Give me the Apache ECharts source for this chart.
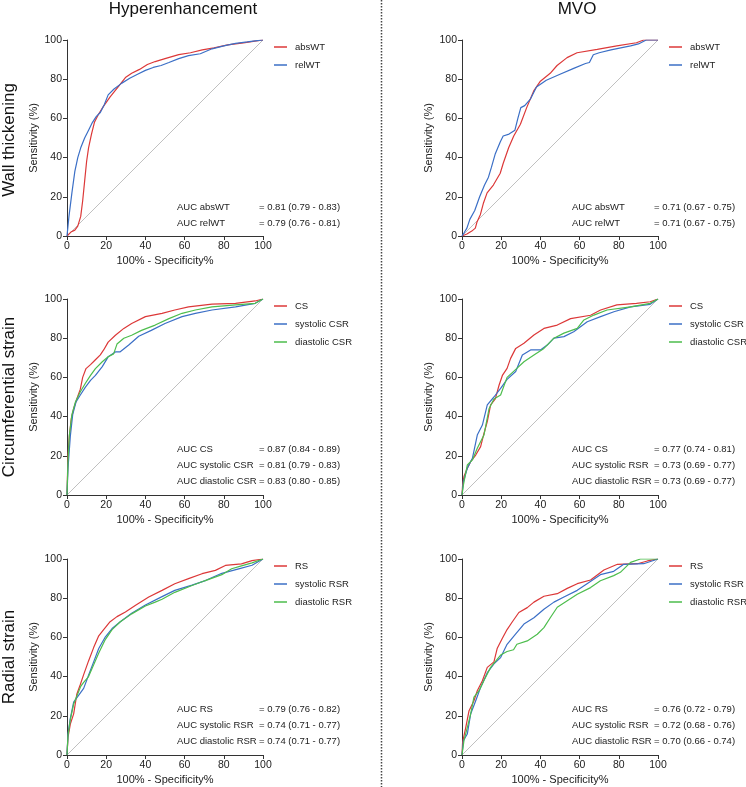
<!DOCTYPE html>
<html><head><meta charset="utf-8">
<script src="https://cdn.jsdelivr.net/npm/echarts@6/dist/echarts.min.js"></script>
<style>html,body{margin:0;padding:0;background:#fff}#c{width:746px;height:787px}</style>
</head><body><div id="c"></div>
<script>
const columnTitles = ['Hyperenhancement', 'MVO'];
const rowTitles = ['Wall thickening', 'Circumferential strain', 'Radial strain'];
const tickValues = [0, 20, 40, 60, 80, 100];
const xAxisTitle = '100% - Specificity%';
const yAxisTitle = 'Sensitivity (%)';
const refDiagonal = [[0, 0], [100, 100]];

// Row 1: wall thickening
const heAbsWT = [[0,0],[2,2],[4,3],[5.5,5],[7,10],[8,18],[9,28],[10,38],[11,45],[12.5,52],[14,58],[16,62],[18.5,66],[22,71],[26,76],[30,81],[33,83],[37,85],[41,87.5],[45,89],[50,90.5],[57,92.5],[63,93.5],[69,95],[75,96],[82,97.5],[90,98.5],[95,99.3],[100,100]];
const heRelWT = [[0,0],[1,10],[2.5,22],[4,33],[5.5,40],[7,45],[9,50],[11,54],[13,58],[15,61],[17,63],[19,67],[21,72],[24,75],[28,78],[32,80.5],[36,82.5],[40,84.5],[44,86],[48,87],[52,88.5],[57,90.5],[62,92],[68,93],[74,95.5],[80,97],[86,98.3],[92,99],[96,99.6],[100,100]];
const mvoAbsWT = [[0,0],[2.5,1],[5,2.5],[6.8,4],[7.6,7],[9.4,11],[11,17],[12.8,22],[16,26],[19.5,32],[21,37],[23.8,45],[26.4,51],[29.8,57],[33,65.5],[36.6,74],[40,79],[45,83],[48.5,87],[53.6,91],[58.7,93.5],[69,95.2],[79,97],[89,98.6],[92.7,100],[100,100]];
const mvoRelWT = [[0,0],[1,1.5],[2.5,4],[4,8.5],[6.5,13],[9,20],[11.5,26],[13.5,30],[15,35],[17,42],[19.5,48],[21,51],[24,52],[27,54],[28.5,60],[30,65.5],[32,66.5],[35,70],[38,76],[43,79.5],[50,82.5],[57,85.5],[63,88],[65,88.5],[67,92.5],[70,93.5],[76,95],[86,97],[90,98],[94,100],[100,100]];

// Row 2: circumferential strain
const heCS = [[0,0],[0.5,20],[1.2,30],[2.2,39],[3.4,44],[5,49],[6.8,54],[8,60],[9.7,64.5],[12,66.5],[14.5,69],[17,71.5],[18.7,74],[21,78],[24.7,81.5],[29,85],[33,87.5],[40,91],[48.5,92.7],[55,94.4],[62,96],[74,97.4],[86,97.8],[96,99],[100,100]];
const heSysCSR = [[0,0],[0.5,13.5],[1.7,30],[2.9,41],[4.6,47.5],[6.8,51],[9.4,55],[12,58.5],[14.5,61],[18,65.5],[21,70.5],[24.7,73],[27,73],[31.5,76.5],[36.6,81],[43,84],[50,87.5],[58.7,91],[65.5,92.7],[74,94.4],[86,96],[96,97.8],[100,100]];
const heDiaCSR = [[0,0],[0.5,17],[1.2,30.5],[2.5,41],[4.3,47.5],[6.8,52.7],[9.4,57],[12,61],[14.5,64.5],[18,68],[21,70.5],[23.8,72],[25.5,77],[29,80],[33,81.5],[38,84],[45,86.7],[52,90],[58.7,92.7],[65.5,94.4],[74,96],[86,97],[96,97.8],[100,100]];
const mvoCS = [[0,0],[0.3,5],[1,9.4],[2.7,13.6],[4.4,17],[7,20.4],[9.5,24.7],[11,30.6],[12.9,37.4],[14.6,46],[17,49],[18.9,56],[20.6,61],[23,64.6],[24.8,69.7],[27.4,74.8],[31.6,77.4],[36.7,81.6],[41.8,85],[48.6,86.7],[55.4,90],[65.6,91.7],[70.7,94.4],[79,97],[89,97.8],[96,98.6],[100,100]];
const mvoSysCSR = [[0,0],[0.7,6.8],[2.7,13.6],[5.3,18.7],[7.8,30.6],[10.4,35.7],[12.9,46],[16.3,50],[19.7,54.4],[23,59],[27.4,63],[30.8,71.4],[35,74],[40,74],[43.5,76.5],[46.9,80],[52,80.8],[57,83.3],[63.9,88.4],[70.7,91],[77.5,93.5],[86,96],[96,97.3],[100,100]];
const mvoDiaCSR = [[0,0],[0.7,5],[2.7,15.3],[5.3,17.9],[7.8,23.8],[11.2,30.6],[13.8,44],[16.3,49],[19.7,51],[23,60],[28,64.6],[31.6,68],[36.7,71.4],[41.8,74.8],[46.9,80],[52,82.6],[58.8,85],[62.2,89.3],[67.3,91.8],[74,94.4],[86,96],[96,97.8],[100,100]];

// Row 3: radial strain
const heRS = [[0,0],[0.5,9],[1.7,15.8],[3.4,21],[5,31],[6.8,36],[8.5,41],[11,48],[13.6,54.8],[16.2,60.8],[18.7,64],[22,68],[25.5,70.6],[29.8,73],[35,76.4],[41.7,80.6],[48.5,84],[55,87.4],[62,90],[68.9,92.5],[75.7,94.2],[80.8,96.7],[89,97.5],[94.4,99.2],[100,100]];
const heSysRSR = [[0,0],[0.5,10.7],[1.7,18.7],[3.4,27],[6,30.6],[8.5,34],[11,40.7],[13.6,47.5],[16.2,54.3],[19.6,60.3],[23,64.5],[27.2,68],[33,72.3],[40,76.5],[48.5,80.8],[55,84],[63.8,86.7],[70.6,89],[79,92.7],[87.6,95],[94.4,96.8],[100,100]];
const heDiaRSR = [[0,0],[0.5,10],[1.7,18],[3.4,26],[5,30],[7,35],[8.5,37],[11,40],[13.6,46],[16.2,52],[19.6,59],[23,64],[27.2,68],[33,72],[40,76],[45,78],[48.5,79.5],[55,83],[63.8,86.5],[70.6,89],[79,92],[84,95],[89,96.5],[94.4,98],[100,100]];
const mvoRS = [[0,0],[0.3,6.5],[1.9,14],[3.6,22.6],[6.1,27.7],[7.8,32.8],[10.4,37.9],[12.9,44.7],[16.3,47.5],[18,54.5],[20.6,59.6],[23,64],[25.7,68],[29,72.7],[33.3,75.2],[36.7,78],[41.8,81],[48.6,82.3],[53.7,85],[58.8,87.4],[65.6,89.3],[72.4,94.4],[79.3,97.3],[89.5,97.6],[94.6,99],[100,100]];
const mvoSysRSR = [[0,0],[0.7,7.3],[2.7,10.7],[4.4,20.9],[7,27.7],[9.5,34.5],[12.9,42],[16.3,46.5],[19.7,49.7],[23,56.5],[27.2,61.6],[31.6,66.8],[36.7,70],[41.8,74.4],[46.9,78],[52,80.6],[58.8,84],[63.8,87.4],[70.6,92],[77.4,93.7],[82.5,97.3],[92.7,97.6],[100,100]];
const mvoDiaRSR = [[0,0],[1,7.3],[2.7,14],[4.4,20.9],[6.1,29.5],[8.7,32.8],[11.2,38],[14.6,44.7],[19.7,51],[23,52.8],[26.3,53.7],[28,56.5],[33.3,58.2],[38.4,61.6],[41.8,65],[45.2,70.3],[48.6,75.4],[53.7,78.7],[58.8,82],[65.6,85.4],[70.6,88.9],[77.4,91.5],[80.8,93.2],[86,98.3],[91,100],[100,100]];

const RED = '#dc3838', BLUE = '#3b6fc6', GREEN = '#4dbd4d';
const FONT = '"Liberation Sans", Arial, sans-serif';

const panels = [
  {row:0,col:0, lines:[['absWT',heAbsWT,RED],['relWT',heRelWT,BLUE]],
   auc:[['AUC absWT','= 0.81 (0.79 - 0.83)'],['AUC relWT','= 0.79 (0.76 - 0.81)']]},
  {row:0,col:1, lines:[['absWT',mvoAbsWT,RED],['relWT',mvoRelWT,BLUE]],
   auc:[['AUC absWT','= 0.71 (0.67 - 0.75)'],['AUC relWT','= 0.71 (0.67 - 0.75)']]},
  {row:1,col:0, lines:[['CS',heCS,RED],['systolic CSR',heSysCSR,BLUE],['diastolic CSR',heDiaCSR,GREEN]],
   auc:[['AUC CS','= 0.87 (0.84 - 0.89)'],['AUC systolic CSR','= 0.81 (0.79 - 0.83)'],['AUC diastolic CSR','= 0.83 (0.80 - 0.85)']]},
  {row:1,col:1, lines:[['CS',mvoCS,RED],['systolic CSR',mvoSysCSR,BLUE],['diastolic CSR',mvoDiaCSR,GREEN]],
   auc:[['AUC CS','= 0.77 (0.74 - 0.81)'],['AUC systolic RSR','= 0.73 (0.69 - 0.77)'],['AUC diastolic RSR','= 0.73 (0.69 - 0.77)']]},
  {row:2,col:0, lines:[['RS',heRS,RED],['systolic RSR',heSysRSR,BLUE],['diastolic RSR',heDiaRSR,GREEN]],
   auc:[['AUC RS','= 0.79 (0.76 - 0.82)'],['AUC systolic RSR','= 0.74 (0.71 - 0.77)'],['AUC diastolic RSR','= 0.74 (0.71 - 0.77)']]},
  {row:2,col:1, lines:[['RS',mvoRS,RED],['systolic RSR',mvoSysRSR,BLUE],['diastolic RSR',mvoDiaRSR,GREEN]],
   auc:[['AUC RS','= 0.76 (0.72 - 0.79)'],['AUC systolic RSR','= 0.72 (0.68 - 0.76)'],['AUC diastolic RSR','= 0.70 (0.66 - 0.74)']]}
];

const gridLeft = [67, 462];
const gridTop = [40, 299, 559];
const SIZE = 196;

const grid = [], xAxis = [], yAxis = [], series = [], legend = [], graphic = [];
const axisCommon = {
  type: 'value', min: tickValues[0], max: tickValues[tickValues.length-1],
  interval: tickValues[1] - tickValues[0],
  axisLine: {show: true, lineStyle: {color: '#333', width: 1}},
  axisTick: {show: true, length: 4, lineStyle: {color: '#333', width: 1}},
  splitLine: {show: false},
  axisLabel: {fontSize: 10.5, color: '#222', fontFamily: FONT, margin: 5},
  nameLocation: 'middle',
  nameTextStyle: {fontSize: 11, color: '#222', fontFamily: FONT}
};

panels.forEach((p, i) => {
  const L = gridLeft[p.col], T = gridTop[p.row];
  grid.push({left: L, top: T, width: SIZE, height: SIZE});
  xAxis.push(Object.assign({}, axisCommon, {gridIndex: i, name: xAxisTitle, nameGap: 19}));
  yAxis.push(Object.assign({}, axisCommon, {gridIndex: i, name: yAxisTitle, nameGap: 28}));
  series.push({type: 'line', name: 'reference', xAxisIndex: i, yAxisIndex: i, data: refDiagonal,
    symbol: 'none', lineStyle: {color: '#b0b0b0', width: 0.8}, silent: true, z: 1});
  p.lines.forEach(([name, data, color]) => {
    series.push({type: 'line', name, xAxisIndex: i, yAxisIndex: i, data, color,
      symbol: 'none', showSymbol: false, lineStyle: {color, width: 1.2}, z: 2});
  });
  legend.push({
    data: p.lines.map(l => l[0]), orient: 'vertical', left: L + SIZE + 11, top: T + 1,
    icon: 'rect', itemWidth: 13, itemHeight: 1.5, itemGap: 6, selectedMode: false, padding: 0,
    textStyle: {fontSize: 9.5, color: '#222', fontFamily: FONT, lineHeight: 12, padding: [0,0,0,3]}
  });
  const aucY0 = T + SIZE - (p.auc.length === 2 ? 29 : 46);
  p.auc.forEach(([a, b], k) => {
    const y = aucY0 + k * 16;
    graphic.push({type: 'text', x: L + 110, y, style: {text: a, font: '9.5px ' + FONT, fill: '#222', verticalAlign: 'middle'}});
    graphic.push({type: 'text', x: L + 192, y, style: {text: b, font: '9.5px ' + FONT, fill: '#222', verticalAlign: 'middle'}});
  });
});

graphic.push({type: 'text', x: 183, y: 9, style: {text: columnTitles[0], font: '17px ' + FONT, fill: '#111', align: 'center', verticalAlign: 'middle'}});
graphic.push({type: 'text', x: 577, y: 9, style: {text: columnTitles[1], font: '17px ' + FONT, fill: '#111', align: 'center', verticalAlign: 'middle'}});
const rowCenters = [140, 397, 657];
rowTitles.forEach((t, r) => {
  graphic.push({type: 'text', x: 9, y: rowCenters[r], rotation: Math.PI / 2,
    style: {text: t, font: '17px ' + FONT, fill: '#111', align: 'center', verticalAlign: 'middle'}});
});
graphic.push({type: 'line', shape: {x1: 381.5, y1: 0, x2: 381.5, y2: 787},
  style: {stroke: '#444', lineWidth: 1.5, lineDash: [1.5, 1.5]}});

const chart = echarts.init(document.getElementById('c'), null, {renderer: 'canvas'});
chart.setOption({animation: false, backgroundColor: '#fff', grid, xAxis, yAxis, series, legend, graphic, tooltip: {show: false}});
</script></body></html>
